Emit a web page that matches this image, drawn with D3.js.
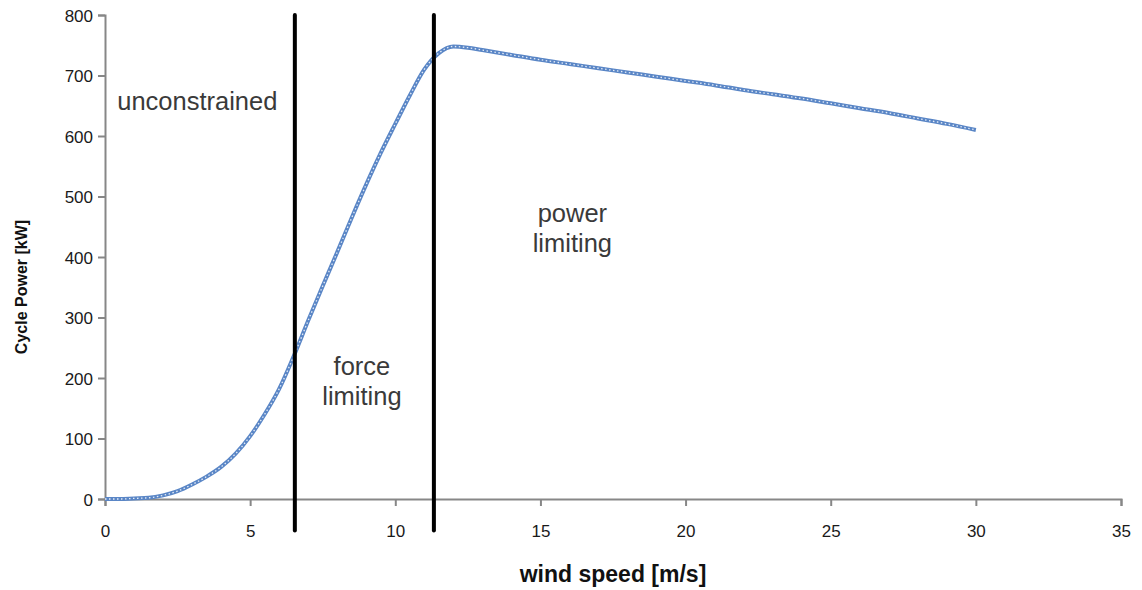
<!DOCTYPE html>
<html>
<head>
<meta charset="utf-8">
<script src="https://cdn.jsdelivr.net/npm/d3@7"></script>
<style>
  body { margin: 0; background: #fff; }
  svg { display: block; font-family: "Liberation Sans", Arial, sans-serif; }
</style>
</head>
<body>
<div id="chart"></div>
<script>
// wind speed [m/s] and cycle power [kW] of the pumping cycle
const windSpeed = [0, 0.5, 1, 1.5, 2, 2.5, 3, 3.5, 4, 4.5, 5, 5.5, 6, 6.5, 7, 7.5, 8, 8.5, 9, 9.5,
  10, 10.5, 11, 11.5, 12, 12.5, 13, 14, 15, 16, 17, 18, 19, 20, 21, 22, 23, 24, 25, 26, 27, 28, 29, 30];
const cyclePower = [0, 0, 1, 2, 6, 13, 24, 37, 53, 75, 104, 140, 182, 236, 295, 352, 408, 465, 520, 572,
  620, 667, 710, 737, 748, 746, 742, 734, 726, 719, 712, 705, 698, 691, 684, 676, 669, 662, 654, 646, 638, 629, 620, 610];

// region boundaries (wind speed) and the kW span of the boundary lines
const boundaries = [6.54, 11.33];
const boundarySpan = [-52, 800];

// region labels, anchored in data units
const regionLabels = [
  { lines: ['unconstrained'], wind: 3.18, kw: 643 },
  { lines: ['force', 'limiting'], wind: 8.85, kw: 205 },
  { lines: ['power', 'limiting'], wind: 16.1, kw: 458 }
];

const xTicks = [0, 5, 10, 15, 20, 25, 30, 35];
const yTicks = [0, 100, 200, 300, 400, 500, 600, 700, 800];

const width = 1142, height = 590;
const margin = { top: 15, right: 21, bottom: 91, left: 105 };

const svg = d3.select('#chart').append('svg')
  .attr('width', width)
  .attr('height', height);

const x = d3.scaleLinear().domain([0, 35]).range([margin.left, width - margin.right]);
const y = d3.scaleLinear().domain([0, 800]).range([height - margin.bottom, margin.top]);

// axes ////////////////////////////////////////////////////////////////
const xAxis = svg.append('g')
  .attr('transform', `translate(0,${y(0)})`)
  .call(d3.axisBottom(x).tickValues(xTicks).tickSize(7).tickSizeOuter(7).tickPadding(19));

const yAxis = svg.append('g')
  .attr('transform', `translate(${x(0)},0)`)
  .call(d3.axisLeft(y).tickValues(yTicks).tickSize(7).tickSizeOuter(7).tickPadding(5));

[xAxis, yAxis].forEach(a => {
  a.select('.domain').attr('stroke', '#878787').attr('stroke-width', 2);
  a.selectAll('.tick line').attr('stroke', '#878787').attr('stroke-width', 2);
  a.selectAll('.tick text').attr('fill', '#1a1a1a').attr('font-size', 17);
});
yAxis.selectAll('.tick text').attr('dy', '0.36em');

// curve ////////////////////////////////////////////////////////////////
const points = windSpeed.map((w, i) => [w, cyclePower[i]]);
const line = d3.line().x(d => x(d[0])).y(d => y(d[1])).curve(d3.curveMonotoneX);

svg.append('path')
  .datum(points)
  .attr('fill', 'none')
  .attr('stroke', '#5a86c6')
  .attr('stroke-width', 4)
  .attr('d', line);

// marker texture along the curve
svg.append('path')
  .datum(points)
  .attr('fill', 'none')
  .attr('stroke', '#e4ecf7')
  .attr('stroke-width', 1.3)
  .attr('stroke-dasharray', '1.5,2.5')
  .attr('d', line);

// region boundaries ////////////////////////////////////////////////////
svg.append('g').selectAll('line')
  .data(boundaries)
  .join('line')
  .attr('x1', d => x(d)).attr('x2', d => x(d))
  .attr('y1', y(boundarySpan[1])).attr('y2', y(boundarySpan[0]))
  .attr('stroke', '#000')
  .attr('stroke-width', 4)
  .attr('stroke-linecap', 'round');

// region labels ////////////////////////////////////////////////////////
const labels = svg.append('g')
  .attr('fill', '#3a3a3a')
  .attr('font-size', 25.5)
  .attr('text-anchor', 'middle');

regionLabels.forEach(r => {
  const t = labels.append('text').attr('x', x(r.wind)).attr('y', y(r.kw));
  r.lines.forEach((s, i) => {
    t.append('tspan').attr('x', x(r.wind)).attr('dy', i ? 30 : 0).text(s);
  });
});

// axis titles //////////////////////////////////////////////////////////
svg.append('text')
  .attr('x', (x(0) + x(35)) / 2)
  .attr('y', 582)
  .attr('text-anchor', 'middle')
  .attr('font-weight', 'bold')
  .attr('font-size', 23)
  .attr('fill', '#111')
  .text('wind speed [m/s]');

svg.append('text')
  .attr('transform', `translate(27,${(y(0) + y(800)) / 2 + 30}) rotate(-90)`)
  .attr('text-anchor', 'middle')
  .attr('font-weight', 'bold')
  .attr('font-size', 16)
  .attr('fill', '#111')
  .text('Cycle Power [kW]');
</script>
</body>
</html>
